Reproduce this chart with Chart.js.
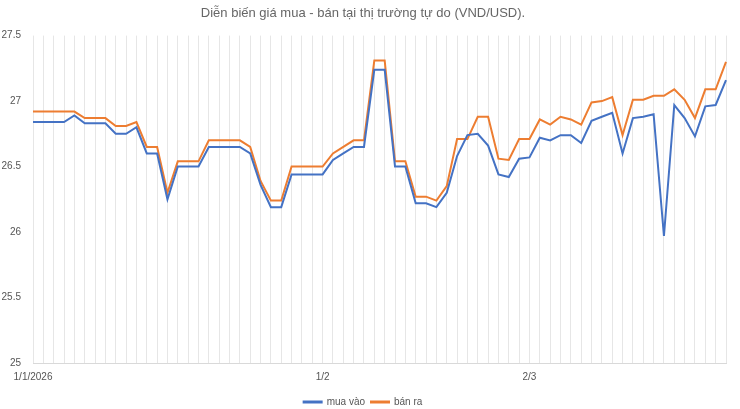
<!DOCTYPE html>
<html><head><meta charset="utf-8">
<script src="https://cdn.jsdelivr.net/npm/chart.js@4/dist/chart.umd.min.js"></script>
<style>html,body{margin:0;padding:0;background:#fff}#w{width:740px;height:409px}</style>
</head><body><div id="w"><canvas id="c"></canvas></div>
<script>
const labels = Array.from({length:68},(_,i)=> i===0?'1/1/2026': i===28?'1/2': i===48?'2/3':'');
const muaVao = [26.84,26.84,26.84,26.84,26.89,26.83,26.83,26.83,26.75,26.75,26.80,26.60,26.60,26.25,26.50,26.50,26.50,26.65,26.65,26.65,26.65,26.60,26.36,26.19,26.19,26.44,26.44,26.44,26.44,26.55,26.60,26.65,26.65,27.24,27.24,26.50,26.50,26.22,26.22,26.19,26.30,26.58,26.74,26.75,26.66,26.44,26.42,26.56,26.57,26.72,26.70,26.74,26.74,26.68,26.85,26.88,26.91,26.60,26.87,26.88,26.90,25.97,26.97,26.87,26.73,26.96,26.97,27.16];
const banRa = [26.92,26.92,26.92,26.92,26.92,26.87,26.87,26.87,26.81,26.81,26.84,26.65,26.65,26.30,26.54,26.54,26.54,26.70,26.70,26.70,26.70,26.65,26.39,26.24,26.24,26.50,26.50,26.50,26.50,26.60,26.65,26.70,26.70,27.31,27.31,26.54,26.54,26.27,26.27,26.24,26.35,26.71,26.71,26.88,26.88,26.56,26.55,26.71,26.71,26.86,26.82,26.88,26.86,26.82,26.99,27.00,27.03,26.74,27.01,27.01,27.04,27.04,27.09,27.01,26.87,27.09,27.09,27.30];
const yTicks = [25,25.5,26,26.5,27,27.5];
new Chart(document.getElementById('c'),{
 type:'line',
 data:{labels,datasets:[
  {label:'mua vào',data:muaVao,borderColor:'#4472c4',backgroundColor:'#4472c4',borderWidth:2,pointRadius:0,tension:0},
  {label:'bán ra',data:banRa,borderColor:'#ed7d31',backgroundColor:'#ed7d31',borderWidth:2,pointRadius:0,tension:0}
 ]},
 options:{responsive:true,maintainAspectRatio:false,animation:false,
  layout:{padding:{left:0,right:14,top:0,bottom:-8}},
  plugins:{
   title:{display:true,text:'Diễn biến giá mua - bán tại thị trường tự do (VND/USD).',color:'#666',font:{family:'Liberation Sans',size:13,weight:'normal'},padding:{top:6,bottom:14}},
   legend:{position:'bottom',labels:{boxWidth:18,boxHeight:1,color:'#555',font:{family:'Liberation Sans',size:10},padding:6}},
   tooltip:{enabled:false}
  },
  scales:{
   x:{grid:{color:'#e6e6e6',drawTicks:false},border:{color:'#d9d9d9'},
      ticks:{autoSkip:false,maxRotation:0,color:'#555',font:{family:'Liberation Sans',size:10},padding:8}},
   y:{min:25,max:27.5,afterFit:s=>{s.width=33;},afterBuildTicks:s=>{s.ticks=yTicks.map(v=>({value:v}));},
      grid:{display:false},border:{display:false},
      ticks:{color:'#555',font:{family:'Liberation Sans',size:10},padding:4,callback:v=>String(v)}}
  }}
});
</script></body></html>
